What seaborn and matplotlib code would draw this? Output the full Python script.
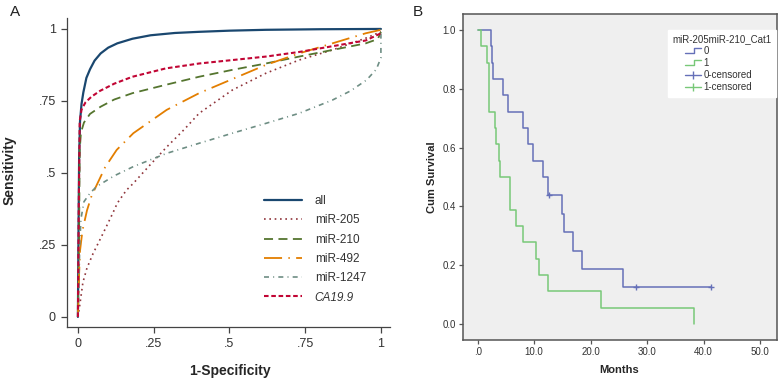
import seaborn as sns
from matplotlib import pyplot as plt
from matplotlib.lines import Line2D
from matplotlib.legend_handler import HandlerBase
import pandas as pd

# ---- panel A: ROC curves (1-specificity, sensitivity) ----
all_fpr = [0, 0.002, 0.004, 0.007, 0.012, 0.018, 0.028, 0.04, 0.055, 0.075, 0.1, 0.13, 0.18, 0.24, 0.32, 0.4, 0.5, 0.62, 0.8, 1]
all_tpr = [0, 0.3, 0.55, 0.68, 0.74, 0.78, 0.83, 0.86, 0.89, 0.915, 0.935, 0.95, 0.966, 0.978, 0.986, 0.99, 0.994, 0.997, 0.999, 1]

mir205_fpr = [0, 0.006, 0.0165, 0.03, 0.05, 0.083, 0.115, 0.13, 0.16, 0.183, 0.24, 0.293, 0.35, 0.4, 0.51, 0.62, 0.73, 0.84, 0.95, 1]
mir205_tpr = [0, 0.04, 0.12, 0.17, 0.22, 0.29, 0.36, 0.395, 0.44, 0.464, 0.53, 0.59, 0.65, 0.707, 0.788, 0.846, 0.892, 0.927, 0.968, 0.99]

mir210_fpr = [0, 0.004, 0.006, 0.01, 0.02, 0.04, 0.075, 0.12, 0.18, 0.29, 0.4, 0.51, 0.62, 0.73, 0.84, 0.95, 0.99, 1]
mir210_tpr = [0, 0.3, 0.58, 0.64, 0.675, 0.705, 0.73, 0.755, 0.777, 0.806, 0.834, 0.858, 0.88, 0.904, 0.927, 0.95, 0.965, 0.99]

mir492_fpr = [0, 0.004, 0.007, 0.015, 0.03, 0.045, 0.062, 0.09, 0.128, 0.183, 0.24, 0.293, 0.4, 0.51, 0.62, 0.73, 0.84, 0.95, 1]
mir492_tpr = [0, 0.15, 0.23, 0.3, 0.37, 0.42, 0.458, 0.52, 0.58, 0.638, 0.68, 0.719, 0.777, 0.826, 0.875, 0.915, 0.95, 0.985, 0.997]

mir1247_fpr = [0, 0.003, 0.006, 0.01, 0.02, 0.04, 0.062, 0.12, 0.183, 0.293, 0.4, 0.51, 0.62, 0.73, 0.84, 0.9, 0.953, 0.985, 1, 1]
mir1247_tpr = [0, 0.1, 0.25, 0.34, 0.4, 0.43, 0.453, 0.49, 0.522, 0.568, 0.603, 0.638, 0.672, 0.707, 0.753, 0.785, 0.823, 0.86, 0.9, 1]

ca199_fpr = [0, 0.003, 0.006, 0.012, 0.025, 0.045, 0.073, 0.12, 0.18, 0.29, 0.4, 0.51, 0.62, 0.73, 0.84, 0.95, 1]
ca199_tpr = [0, 0.4, 0.68, 0.72, 0.745, 0.765, 0.785, 0.81, 0.834, 0.863, 0.88, 0.892, 0.904, 0.92, 0.94, 0.96, 0.985]

roc_labels = ['all', 'miR-205', 'miR-210', 'miR-492', 'miR-1247', 'CA19.9']
roc_ticks = [0, 0.25, 0.5, 0.75, 1]
roc_ticklabels = ['0', '.25', '.5', '.75', '1']

# ---- panel B: Kaplan-Meier ----
km0_months = [0, 2.3, 2.5, 2.7, 4.4, 5.3, 8.0, 8.9, 9.8, 11.5, 12.4, 14.9, 15.3, 16.8, 18.4, 25.7, 41.3]
km0_surv = [1, 0.944, 0.889, 0.833, 0.778, 0.722, 0.667, 0.611, 0.556, 0.5, 0.4375, 0.375, 0.3125, 0.25, 0.1875, 0.125, 0.125]
km0_cens_months = [12.6, 28.0, 41.3]
km0_cens_surv = [0.4375, 0.125, 0.125]

km1_months = [0, 0.5, 1.6, 2.0, 3.0, 3.3, 3.8, 4.0, 5.8, 6.7, 8.0, 10.4, 10.9, 12.4, 21.8, 38.3]
km1_surv = [1, 0.944, 0.889, 0.722, 0.667, 0.611, 0.556, 0.5, 0.389, 0.333, 0.278, 0.222, 0.167, 0.111, 0.056, 0]

km_xticks = [0, 10, 20, 30, 40, 50]
km_xticklabels = ['.0', '10.0', '20.0', '30.0', '40.0', '50.0']
km_yticks = [0, 0.2, 0.4, 0.6, 0.8, 1.0]
km_yticklabels = ['0.0', '0.2', '0.4', '0.6', '0.8', '1.0']

sns.set_theme(style='ticks')
plt.rcParams['font.family'] = ['Liberation Sans', 'DejaVu Sans']

fig = plt.figure(figsize=(7.8, 3.81), dpi=100)
W, H = 780, 381
axA = fig.add_axes([67 / W, (H - 327) / H, (390 - 67) / W, (327 - 18) / H])
axB = fig.add_axes([463 / W, (H - 340) / H, (777 - 463) / W, (340 - 14) / H])

########### A ###########
roc_data = [(all_fpr, all_tpr), (mir205_fpr, mir205_tpr), (mir210_fpr, mir210_tpr),
            (mir492_fpr, mir492_tpr), (mir1247_fpr, mir1247_tpr), (ca199_fpr, ca199_tpr)]
colors = ['#1a476f', '#90353b', '#55752f', '#e37e00', '#6e8e84', '#c10534']
styles = ['-', (0, (1, 2.2)), (0, (5, 3)), (0, (10, 3.5, 0.8, 3.5)), (0, (3, 2.5, 0.6, 2.5)), (0, (2.2, 1.3))]
widths = [1.6, 1.2, 1.3, 1.3, 1.2, 1.5]

for (fpr, tpr), lab, c, ls, lw in zip(roc_data, roc_labels, colors, styles, widths):
    d = pd.DataFrame({'fpr': fpr, 'tpr': tpr})
    sns.lineplot(x='fpr', y='tpr', data=d, ax=axA, sort=False, estimator=None,
                 color=c, linestyle=ls, linewidth=lw, label=lab)

axA.set_xlim(-0.036, 1.03)
axA.set_ylim(-0.035, 1.038)
axA.set_xticks(roc_ticks)
axA.set_xticklabels(roc_ticklabels)
axA.set_yticks(roc_ticks)
axA.set_yticklabels(roc_ticklabels)
axA.tick_params(labelsize=9, length=4, width=0.9, color='#444444', labelcolor='#333333', pad=4)
for s in ['top', 'right']:
    axA.spines[s].set_visible(False)
for s in ['left', 'bottom']:
    axA.spines[s].set_color('#444444')
    axA.spines[s].set_linewidth(0.9)
axA.set_xlabel('1-Specificity', fontsize=10, fontweight='bold')
axA.set_ylabel('Sensitivity', fontsize=10, fontweight='bold')
axA.xaxis.set_label_coords(0.505, -0.12)
axA.yaxis.set_label_coords(-0.155, 0.508)

leg = axA.legend(loc='upper left', bbox_to_anchor=((264 - 67) / 323, (327 - 195) / 309),
                 frameon=False, fontsize=8.5, handlelength=3.2, handletextpad=1.1,
                 labelspacing=0.62, borderaxespad=0, borderpad=0)
leg.get_texts()[5].set_style('italic')
for t in leg.get_texts():
    t.set_color('#333333')

########### B ###########
blue = '#6570b8'
green = '#78c878'
axB.set_facecolor('#efefef')

d0 = pd.DataFrame({'months': km0_months, 'surv': km0_surv})
d1 = pd.DataFrame({'months': km1_months, 'surv': km1_surv})
sns.lineplot(x='months', y='surv', data=d0, ax=axB, sort=False, estimator=None,
             drawstyle='steps-post', color=blue, linewidth=1.1)
sns.lineplot(x='months', y='surv', data=d1, ax=axB, sort=False, estimator=None,
             drawstyle='steps-post', color=green, linewidth=1.1)
sns.scatterplot(x=km0_cens_months, y=km0_cens_surv, ax=axB, marker='+', color=blue,
                s=18, linewidth=1.0)

axB.set_xlim(-2.6, 53.0)
axB.set_ylim(-0.054, 1.054)
axB.set_xticks(km_xticks)
axB.set_xticklabels(km_xticklabels)
axB.set_yticks(km_yticks)
axB.set_yticklabels(km_yticklabels)
axB.tick_params(labelsize=7, length=3, width=0.9, color='#555555', labelcolor='#333333', pad=2)
for s in axB.spines.values():
    s.set_color('#555555')
    s.set_linewidth(1.1)
axB.set_xlabel('Months', fontsize=8, fontweight='bold')
axB.set_ylabel('Cum Survival', fontsize=8, fontweight='bold')
axB.xaxis.set_label_coords(0.497, -0.077)
axB.yaxis.set_label_coords(-0.083, 0.5)


class StepHandler(HandlerBase):
    # small "_|‾" step icon, drawn in the right part of the handle box
    def create_artists(self, legend, orig_handle, xdescent, ydescent, width, height, fontsize, trans):
        x0 = -xdescent + 0.45 * width
        xm = -xdescent + 0.75 * width
        x1 = -xdescent + width
        lo = -ydescent + 0.15 * height
        hi = -ydescent + 0.9 * height
        line = Line2D([x0, xm, xm, x1], [lo, lo, hi, hi], color=orig_handle.get_color(),
                      lw=1.0, transform=trans)
        return [line]


class CensorHandler(HandlerBase):
    # horizontal line with a "+" in the middle
    def create_artists(self, legend, orig_handle, xdescent, ydescent, width, height, fontsize, trans):
        x0 = -xdescent + 0.45 * width
        x1 = -xdescent + width
        ym = -ydescent + 0.5 * height
        line = Line2D([x0, x1], [ym, ym], color=orig_handle.get_color(), lw=1.0, transform=trans)
        tick = Line2D([(x0 + x1) / 2], [ym], color=orig_handle.get_color(), marker='|',
                      markersize=6, markeredgewidth=1.0, transform=trans)
        return [line, tick]


h0 = Line2D([], [], color=blue)
h1 = Line2D([], [], color=green)
h0c = Line2D([], [], color=blue)
h1c = Line2D([], [], color=green)
legB = axB.legend([h0, h1, h0c, h1c], ['0', '1', '0-censored', '1-censored'],
                  handler_map={h0: StepHandler(), h1: StepHandler(),
                               h0c: CensorHandler(), h1c: CensorHandler()},
                  title='miR-205miR-210_Cat1', title_fontsize=7, fontsize=7,
                  loc='upper right', bbox_to_anchor=(0.997, 0.951), borderaxespad=0,
                  handlelength=2.9, handletextpad=0.25, labelspacing=0.2,
                  frameon=True, fancybox=False, facecolor='white', edgecolor='white',
                  framealpha=1, alignment='left', borderpad=0.45)
for t in legB.get_texts():
    t.set_color('#333333')
legB.get_title().set_color('#333333')

fig.text(10 / W, 1 - 12 / H, 'A', fontsize=11, va='center', ha='left', color='#222222')
fig.text(413 / W, 1 - 12 / H, 'B', fontsize=11, va='center', ha='left', color='#222222')

plt.savefig('out.png', dpi=100)
plt.close()
